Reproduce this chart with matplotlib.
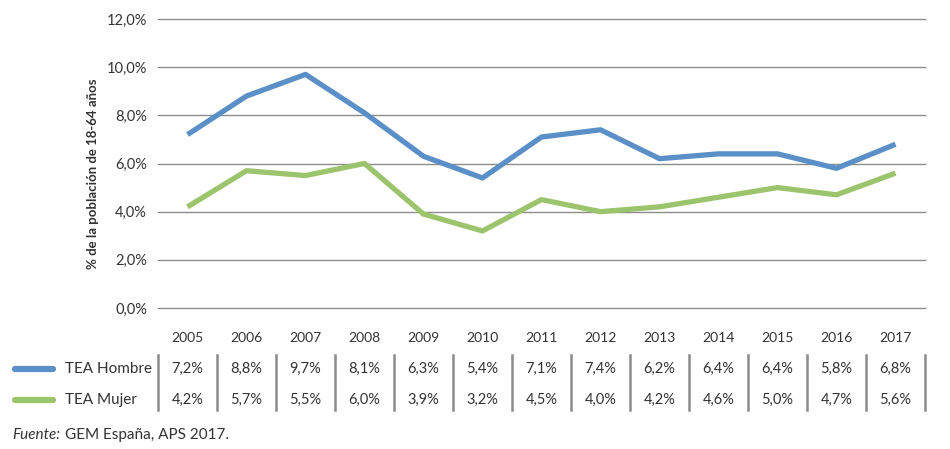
import matplotlib.pyplot as plt
import matplotlib.transforms as mtransforms
import numpy as np

plt.rcParams['font.family'] = ['Lato', 'DejaVu Sans']

years = ['2005', '2006', '2007', '2008', '2009', '2010', '2011',
         '2012', '2013', '2014', '2015', '2016', '2017']
hombre = [7.2, 8.8, 9.7, 8.1, 6.3, 5.4, 7.1, 7.4, 6.2, 6.4, 6.4, 5.8, 6.8]
mujer = [4.2, 5.7, 5.5, 6.0, 3.9, 3.2, 4.5, 4.0, 4.2, 4.6, 5.0, 4.7, 5.6]
series = [('TEA Hombre', hombre, '#5b8fc7'), ('TEA Mujer', mujer, '#9cc46c')]

W, H = 950, 449
fig = plt.figure(figsize=(W / 100, H / 100), dpi=100)

def fy(py):
    # pixel row from top -> figure fraction
    return 1 - py / H

ax = fig.add_axes([158 / W, fy(308), (925 - 158) / W, (308 - 19) / H])
x = np.arange(len(years))
for name, vals, col in series:
    ax.plot(x, vals, color=col, lw=3.8, solid_capstyle='butt', solid_joinstyle='round')

ax.set_xlim(-0.5, len(years) - 0.5)
ax.set_ylim(0, 12)
ax.set_yticks(np.arange(0, 13, 2))
ax.set_yticklabels([f'{v:.1f}%'.replace('.', ',') for v in np.arange(0, 13, 2)],
                   fontsize=10.5, color='#333333')
ax.set_xticks([])
ax.tick_params(axis='y', length=0, pad=8)
for s in ax.spines.values():
    s.set_visible(False)
for v in np.arange(0, 13, 2):
    ax.axhline(v, color='#8c8c8c', lw=1, clip_on=False, zorder=0)
ax.set_ylabel('% de la población de 18-64 años', fontsize=9.5, fontweight='bold',
              color='#333333')
ax.yaxis.set_label_coords(-0.077, 0.464)

# data table under the chart
trans = mtransforms.blended_transform_factory(ax.transData, fig.transFigure)
for i, yr in enumerate(years):
    ax.text(i, fy(338), yr, transform=trans, ha='center', va='center',
            fontsize=10, color='#333333')
    for r, (name, vals, col) in enumerate(series):
        ax.text(i, fy(369 + 31 * r), f'{vals[i]:.1f}%'.replace('.', ','),
                transform=trans, ha='center', va='center', fontsize=10.5, color='#333333')
for i in range(len(years) + 1):
    ax.add_line(plt.Line2D([i - 0.5, i - 0.5], [fy(355), fy(410)], transform=trans,
                           color='#8c8c8c', lw=1.8, clip_on=False))

for r, (name, vals, col) in enumerate(series):
    yy = fy(369 + 31 * r)
    fig.add_artist(plt.Line2D([15 / W, 53 / W], [yy, yy], color=col, lw=4.5,
                              solid_capstyle='round'))
    fig.text(65 / W, yy, name, ha='left', va='center', fontsize=11, color='#333333')

src = fig.text(12 / W, fy(435), 'Fuente:', fontsize=11, fontstyle='italic',
               color='#333333', va='center')
fig.canvas.draw()
bb = src.get_window_extent()
fig.text((bb.x1 + 5) / W, fy(435), 'GEM España, APS 2017.', fontsize=11,
         color='#333333', va='center')

fig.savefig('out.png', dpi=100)
